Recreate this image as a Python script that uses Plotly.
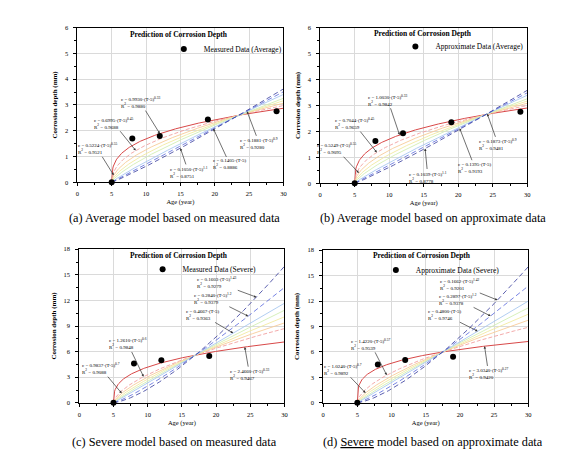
import numpy as np
import plotly.graph_objects as go

age_a = [5, 8, 12, 19, 29]
depth_a = [0.0, 1.70, 1.79, 2.43, 2.75]
age_b = [5, 8, 12, 19, 29]
depth_b = [0.0, 1.63, 1.93, 2.35, 2.76]
age_c = [5, 8, 12, 19]
depth_c = [0.0, 4.60, 5.00, 5.50]
age_d = [5, 8, 12, 19]
depth_d = [0.0, 4.53, 5.04, 5.43]

# ---------------- fitted models  c = k (T-5)^n ----------------
coef_a = [0.9930, 0.6995, 0.5224, 0.3902, 0.2914, 0.1881, 0.1405, 0.1050]
expo_a = [0.33, 0.45, 0.55, 0.65, 0.75, 0.90, 1.00, 1.10]
rsq_a = [0.9880, 0.9688, 0.9521, 0.9402, 0.9215, 0.9280, 0.8886, 0.8751]

coef_b = [1.0030, 0.7044, 0.5249, 0.3909, 0.2913, 0.1873, 0.1395, 0.1039]
expo_b = [0.33, 0.45, 0.55, 0.65, 0.75, 0.90, 1.00, 1.10]
rsq_b = [0.9842, 0.9659, 0.9095, 0.9350, 0.9280, 0.9481, 0.9193, 0.8778]

coef_c = [2.4660, 1.2610, 0.9837, 0.7671, 0.5983, 0.4667, 0.2840, 0.1603]
expo_c = [0.33, 0.60, 0.70, 0.80, 0.90, 1.00, 1.20, 1.43]
rsq_c = [0.9467, 0.9848, 0.9088, 0.9021, 0.8934, 0.9363, 0.9379, 0.9279]

coef_d = [3.0340, 1.4220, 1.0240, 0.7955, 0.6179, 0.4800, 0.2897, 0.1662]
expo_d = [0.27, 0.57, 0.70, 0.80, 0.90, 1.00, 1.20, 1.42]
rsq_d = [0.9420, 0.9539, 0.9892, 0.9650, 0.9600, 0.9746, 0.9378, 0.9201]

# which curve each formula label points to, and at what age
label_curve_a = [2, 1, 0, 7, 6, 5]
label_age_a = [5.3, 8.5, 12.0, 15.0, 19.8, 24.7]
label_curve_b = [2, 1, 0, 7, 6, 5]
label_age_b = [5.6, 8.2, 11.5, 15.2, 20.2, 24.2]
label_curve_c = [2, 1, 7, 6, 5, 0]
label_age_c = [6.2, 9.4, 25.9, 24.7, 22.5, 24.2]
label_curve_d = [2, 1, 7, 6, 5, 0]
label_age_d = [6.2, 9.3, 25.5, 24.5, 22.6, 23.6]

# ---------------- text ----------------
plot_title = "Prediction of Corrosion Depth"
legend_names = ["Measured Data (Average)", "Approximate Data (Average)",
                "Measured Data (Severe)", "Approximate Data (Severe)"]
captions = ["(a) Average model based on measured data",
            "(b) Average model based on approximate data",
            "(c) Severe model based on measured data",
            "(d) <span style='text-decoration:underline wavy #4a62d8'>Severe</span> model based on approximate data"]
x_title = "Age (year)"
y_title = "Corrosion depth (mm)"
x_ticks = [0, 5, 10, 15, 20, 25, 30]
y_ticks_avg = [0, 1, 2, 3, 4, 5, 6]
y_ticks_sev = [0, 3, 6, 9, 12, 15, 18]

# ---------------- styles / layout positions ----------------
curve_colors = ["#d84848", "#f2a0a0", "#f7cc98", "#f2eaa0", "#d2eeb4", "#a9c8ef", "#5565dc", "#34389a"]
curve_dash = ["solid", "4px,2px", "solid", "solid", "solid", "solid", "5px,3px", "5px,3px"]
curve_width = [1.0, 0.9, 0.9, 0.9, 0.9, 0.9, 0.8, 0.8]

x_dom = [[0.135, 0.5044], [0.5702, 0.9414], [0.1385, 0.5062], [0.5755, 0.9432]]
y_dom = [[0.6048, 0.9476], [0.6026, 0.9476], [0.1157, 0.4563], [0.1157, 0.4541]]
label_tx = [[2.9, 5.3, 9.2, 16.2, 22.2, 26.5],
            [2.3, 4.9, 9.8, 15.6, 22.4, 25.8],
            [3.2, 7.1, 20.1, 19.6, 18.0, 24.9],
            [2.9, 7.0, 20.0, 19.7, 17.8, 24.2]]
label_ty = [[1.30, 2.29, 3.09, 0.38, 0.69, 1.49],
            [1.33, 2.30, 3.20, 0.24, 0.60, 1.48],
            [4.0, 6.9, 14.1, 12.2, 10.3, 3.3],
            [3.95, 6.9, 13.9, 12.2, 10.4, 3.4]]
title_pos = [(0.318, 0.933), (0.755, 0.935), (0.318, 0.442), (0.753, 0.442)]
legend_pos = [(0.290, 0.900), (0.705, 0.906), (0.252, 0.412), (0.670, 0.410)]
caption_pos = [(0.309, 0.526), (0.772, 0.526), (0.309, 0.028), (0.772, 0.028)]

serif = "Liberation Serif"

panels = [
    (age_a, depth_a, coef_a, expo_a, rsq_a, label_curve_a, label_age_a, [0, 6], y_ticks_avg, 0.5),
    (age_b, depth_b, coef_b, expo_b, rsq_b, label_curve_b, label_age_b, [0, 6], y_ticks_avg, 0.5),
    (age_c, depth_c, coef_c, expo_c, rsq_c, label_curve_c, label_age_c, [0, 18], y_ticks_sev, 1.5),
    (age_d, depth_d, coef_d, expo_d, rsq_d, label_curve_d, label_age_d, [0, 18], y_ticks_sev, 1.5),
]


def model(k, n, t):
    return k * np.power(np.asarray(t, dtype=float) - 5.0, n)


def formula(k, n, r):
    if abs(n - 1.0) < 1e-9:
        f = f"c = {k:.4f}·(T-5)"
    else:
        f = f"c = {k:.4f}·(T-5)<sup>{n:g}</sup>"
    return f + f"<br>R<sup>2</sup> = {r:.4f}"


T = np.linspace(5, 30, 301)
fig = go.Figure()
annotations = []
layout_axes = {}

for p, (ages, depths, coefs, expos, rsqs, lcur, lage, yr, yt, yminor) in enumerate(panels):
    sfx = "" if p == 0 else str(p + 1)
    xa, ya = "x" + sfx, "y" + sfx
    leg = "legend" + sfx

    for i, (k, n) in enumerate(zip(coefs, expos)):
        fig.add_trace(go.Scatter(
            x=T, y=model(k, n, T), mode="lines", xaxis=xa, yaxis=ya,
            line=dict(color=curve_colors[i], dash=curve_dash[i], width=curve_width[i]),
            showlegend=False, hoverinfo="skip"))

    fig.add_trace(go.Scatter(
        x=ages, y=depths, mode="markers", xaxis=xa, yaxis=ya,
        marker=dict(color="black", size=6, symbol="circle"),
        name=legend_names[p], legend=leg, showlegend=True, cliponaxis=False))

    tick_font = dict(family=serif, size=6.5, color="black")
    layout_axes["xaxis" + sfx] = dict(
        domain=x_dom[p], range=[0, 30], tickvals=x_ticks, anchor=ya,
        showgrid=True, gridcolor="#dadada", gridwidth=0.6, zeroline=False,
        showline=True, linecolor="black", linewidth=0.8, mirror=True,
        ticks="outside", ticklen=3, tickwidth=0.6, tickcolor="black",
        minor=dict(ticks="outside", ticklen=2, dtick=2.5, tickwidth=0.5, tickcolor="black"),
        tickfont=tick_font, ticklabelstandoff=2,
        title=dict(text=x_title, font=dict(family=serif, size=6.5, color="black"), standoff=3))
    layout_axes["yaxis" + sfx] = dict(
        domain=y_dom[p], range=yr, tickvals=yt, anchor=xa,
        showgrid=True, gridcolor="#dadada", gridwidth=0.6, zeroline=False,
        showline=True, linecolor="black", linewidth=0.8, mirror=True,
        ticks="outside", ticklen=3, tickwidth=0.6, tickcolor="black",
        minor=dict(ticks="outside", ticklen=2, dtick=yminor, tickwidth=0.5, tickcolor="black"),
        tickfont=tick_font, ticklabelstandoff=4,
        title=dict(text="<b>" + y_title + "</b>", font=dict(family=serif, size=7, color="black"), standoff=6))

    layout_axes[leg] = dict(
        x=legend_pos[p][0], y=legend_pos[p][1], xanchor="left", yanchor="middle",
        xref="paper", yref="paper", bgcolor="rgba(0,0,0,0)", borderwidth=0,
        font=dict(family=serif, size=7.5, color="black"), itemwidth=30,
        tracegroupgap=0)

    # plot title
    annotations.append(dict(
        text="<b>" + plot_title + "</b>", x=title_pos[p][0], y=title_pos[p][1],
        xref="paper", yref="paper", showarrow=False, xanchor="center", yanchor="middle",
        font=dict(family=serif, size=7.5, color="black")))

    # formula labels
    for j, (ci, ta) in enumerate(zip(lcur, lage)):
        annotations.append(dict(
            text=formula(coefs[ci], expos[ci], rsqs[ci]),
            x=ta, y=float(model(coefs[ci], expos[ci], ta)), xref=xa, yref=ya,
            ax=label_tx[p][j], ay=label_ty[p][j], axref=xa, ayref=ya,
            showarrow=True, arrowhead=2, arrowsize=0.7, arrowwidth=0.7,
            arrowcolor="#333333", standoff=0, align="left",
            font=dict(family=serif, size=5, color="black")))

    # caption
    annotations.append(dict(
        text=captions[p], x=caption_pos[p][0], y=caption_pos[p][1],
        xref="paper", yref="paper", showarrow=False, xanchor="center", yanchor="middle",
        font=dict(family=serif, size=12.3, color="black")))

fig.update_layout(
    width=563, height=458, margin=dict(l=0, r=0, t=0, b=0),
    paper_bgcolor="white", plot_bgcolor="white",
    annotations=annotations, **layout_axes)

fig.write_html("out.html", config={"displayModeBar": False},
               post_script="document.body.style.margin='0px';")
